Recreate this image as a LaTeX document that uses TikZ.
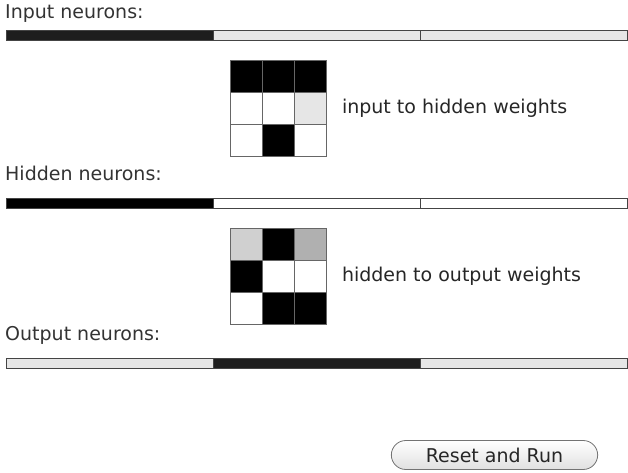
\documentclass[tikz,border=0pt]{standalone}
\usepackage{fontspec}
\setmainfont{DejaVu Sans}
\usetikzlibrary{positioning,shapes.misc}
\definecolor{barline}{RGB}{68,68,68}
\definecolor{dark}{RGB}{30,30,30}
\definecolor{light}{RGB}{230,230,230}
\definecolor{grayA}{RGB}{208,208,208}
\definecolor{grayB}{RGB}{176,176,176}

\begin{document}
\begin{tikzpicture}[
      x=1pt, y=-1pt,
      title/.style={anchor=base west, inner sep=0pt, font=\fontsize{19}{22}\selectfont, text=black!80},
      seg/.style={draw=barline, line width=1.4pt, minimum width=207pt, minimum height=10pt, inner sep=0pt, anchor=north west},
      cell/.style={draw=black!60, line width=0.8pt, minimum size=32pt, inner sep=0pt, anchor=north west},
      wlabel/.style={anchor=west, inner sep=0pt, font=\fontsize{19}{22}\selectfont, text=black!85},
      button/.style={rounded rectangle, draw=black!55, line width=0.8pt, top color=white, bottom color=black!12, minimum width=213pt, minimum height=29pt, font=\fontsize{19}{22}\selectfont, text=black!85}
    ]
      \useasboundingbox (0,0) rectangle (628,473);

      % neuron bars
      \node[title] (in_title) at (5,19) {Input neurons:};
      \node[seg, fill=dark] (in1) at (6,30) {};
      \node[seg, fill=light] (in2) at (213,30) {};
      \node[seg, fill=light] (in3) at (420,30) {};

      \node[title] (hid_title) at (5,180) {Hidden neurons:};
      \node[seg, fill=black] (hid1) at (6,198) {};
      \node[seg, fill=white] (hid2) at (213,198) {};
      \node[seg, fill=white] (hid3) at (420,198) {};

      \node[title] (out_title) at (5,340) {Output neurons:};
      \node[seg, fill=light] (out1) at (6,358) {};
      \node[seg, fill=dark] (out2) at (213,358) {};
      \node[seg, fill=light] (out3) at (420,358) {};

      % weight grids
      \foreach \c [count=\i from 0] in {black,black,black,white,white,light,white,black,white}
        \node[cell, fill=\c] (ih\i) at ({230+32*mod(\i,3)},{60+32*int(\i/3)}) {};
      \node[wlabel, right=15pt of ih5.east|-ih3.west] (ih_label) {input to hidden weights};

      \foreach \c [count=\i from 0] in {grayA,black,grayB,black,white,white,white,black,black}
        \node[cell, fill=\c] (ho\i) at ({230+32*mod(\i,3)},{228+32*int(\i/3)}) {};
      \node[wlabel, right=15pt of ho5.east|-ho3.west] (ho_label) {hidden to output weights};

      % run button
      \node[button] (reset) at (494.5,455) {Reset and Run};
    \end{tikzpicture}
\end{document}
